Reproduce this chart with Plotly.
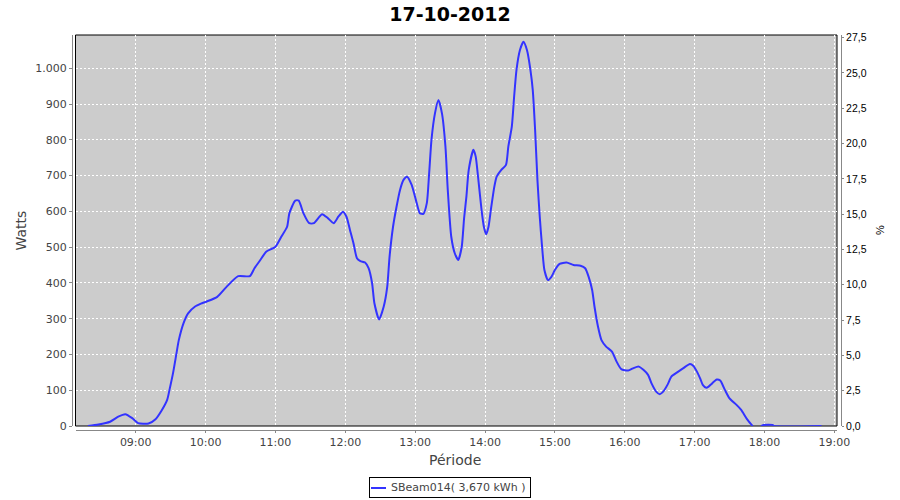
import plotly.graph_objects as go
from datetime import datetime

day = "2012-10-17"
times = ["08:19", "08:28", "08:38", "08:45", "08:51", "08:57", "09:02", "09:11", "09:17", "09:22",
         "09:27", "09:29", "09:32", "09:35", "09:37", "09:41", "09:45", "09:51", "09:56", "10:01",
         "10:10", "10:18", "10:28", "10:38", "10:42", "10:47", "10:52", "11:00", "11:05", "11:10",
         "11:12", "11:17", "11:20", "11:24", "11:29", "11:33", "11:40", "11:45", "11:50", "11:54",
         "11:58", "12:01", "12:04", "12:07", "12:10", "12:13", "12:17", "12:20", "12:23", "12:25",
         "12:29", "12:33", "12:36", "12:38", "12:41", "12:44", "12:47", "12:50", "12:53", "12:57",
         "13:01", "13:04", "13:07", "13:10", "13:12", "13:14", "13:17", "13:20", "13:23", "13:26",
         "13:28", "13:31", "13:34", "13:37", "13:40", "13:42", "13:44", "13:46", "13:50", "13:52",
         "13:54", "13:57", "13:59", "14:01", "14:03", "14:05", "14:08", "14:10", "14:14", "14:18",
         "14:20", "14:23", "14:25", "14:27", "14:30", "14:33", "14:36", "14:39", "14:41", "14:43",
         "14:45", "14:47", "14:49", "14:51", "14:54", "14:57", "15:00", "15:04", "15:10", "15:16",
         "15:22", "15:26", "15:29", "15:32", "15:34", "15:37", "15:40", "15:44", "15:49", "15:53",
         "15:57", "16:03", "16:07", "16:12", "16:16", "16:20", "16:23", "16:27", "16:30", "16:33",
         "16:37", "16:40", "16:45", "16:50", "16:56", "16:59", "17:02", "17:05", "17:07", "17:10",
         "17:12", "17:15", "17:19", "17:22", "17:26", "17:30", "17:36", "17:40", "17:45", "17:49",
         "17:50", "17:54", "17:57", "17:59", "18:07", "18:08", "18:49"]
watts = [0, 4, 12, 26, 33, 22, 8, 7, 19, 42,
         73, 101, 147, 203, 240, 287, 315, 334, 342, 348,
         361, 389, 419, 419, 441, 464, 487, 501, 529, 557,
         595, 630, 630, 595, 567, 567, 592, 581, 567, 585,
         599, 585, 548, 511, 469, 461, 457, 441, 399, 343,
         298, 334, 389, 473, 557, 613, 660, 688, 697, 674,
         627, 595, 593, 623, 706, 800, 874, 911, 874, 781,
         660, 529, 483, 464, 501, 580, 641, 716, 772, 753,
         697, 604, 557, 536, 557, 604, 669, 697, 716, 730,
         781, 837, 921, 995, 1051, 1074, 1051, 995, 939, 828,
         688, 585, 501, 436, 408, 417, 436, 453, 457, 450,
         448, 441, 417, 380, 334, 278, 240, 222, 208, 180,
         159, 155, 161, 166, 157, 143, 119, 96, 89, 96,
         117, 138, 150, 161, 173, 168, 152, 131, 115, 107,
         110, 119, 130, 127, 101, 77, 59, 45, 19, 3,
         0, None, 0, 3, 3, 0, 0]

left_ticks = list(range(0, 1001, 100))
right_ticks = [0, 2.5, 5, 7.5, 10, 12.5, 15, 17.5, 20, 22.5, 25, 27.5]
series_name = "SBeam014( 3,670 kWh )"
title_text = "17-10-2012"
line_color = "#3333FF"

x = [datetime.strptime(f"{day} {t}", "%Y-%m-%d %H:%M") for t in times]

W, H = 900, 500
ml, mr, mt, mb = 72, 59, 35, 70
pw = W - ml - mr
ph = H - mt - mb
xd0 = (75.5 - ml) / pw
xd1 = (837 - ml) / pw
yd0 = (430 - 426) / ph


def px_x(px):
    return (px - ml) / pw


def px_y(py):
    return (H - mb - py) / ph


fig = go.Figure()
fig.add_trace(go.Scatter(x=x, y=watts, mode="lines", name=series_name,
                         line=dict(color=line_color, width=2, shape="spline", smoothing=0.6),
                         connectgaps=False, showlegend=False))
fig.add_trace(go.Scatter(x=[], y=[], yaxis="y2", showlegend=False, hoverinfo="skip"))

font_main = "DejaVu Sans"
fig.update_layout(
    width=W, height=H,
    margin=dict(l=ml, r=mr, t=mt, b=mb, autoexpand=False),
    paper_bgcolor="white",
    plot_bgcolor="#CCCCCC",
    separators=",.",
    font=dict(family=font_main, size=11, color="#444"),
    title=dict(text=title_text, x=0.5, xref="container", xanchor="center",
               y=1 - 14 / H, yref="container", yanchor="middle",
               font=dict(family=font_main, size=19, color="black", weight="bold")),
    xaxis=dict(type="date", domain=[xd0, xd1], anchor="free", position=0,
               range=[datetime(2012, 10, 17, 8, 8, 17), datetime(2012, 10, 17, 19, 2, 17)],
               tickformat="%H:%M", dtick=3600000, tick0="2012-10-17 00:00",
               showgrid=True, gridcolor="white", gridwidth=1, griddash="2px,2px",
               showline=True, linecolor="#888", linewidth=1,
               ticks="outside", ticklen=2, tickcolor="#888",
               tickfont=dict(family=font_main, size=11, color="#444"),
               zeroline=False, automargin=False),
    yaxis=dict(domain=[yd0, 1], anchor="free", position=0,
               range=[0, 1093], tickvals=left_ticks, tickformat=",d",
               showgrid=True, gridcolor="white", gridwidth=1, griddash="2px,2px",
               showline=True, linecolor="#888", linewidth=1,
               ticks="outside", ticklen=3, tickcolor="#888",
               tickfont=dict(family=font_main, size=11, color="#444"),
               zeroline=False, automargin=False),
    yaxis2=dict(overlaying="y", side="right", anchor="free", position=1,
                range=[0, 27.69], tickvals=right_ticks, tickformat=".1f",
                showgrid=False, zeroline=False,
                showline=True, linecolor="#888", linewidth=1,
                ticks="outside", ticklen=2, tickcolor="#888",
                tickfont=dict(family="Liberation Sans", size=10.5, color="black"),
                automargin=False),
    showlegend=False,
)

# plot border
fig.add_shape(type="rect", xref="paper", yref="paper", x0=xd0, x1=xd1, y0=yd0, y1=1,
              line=dict(color="black", width=1), fillcolor="rgba(0,0,0,0)", layer="between")

# axis titles
fig.add_annotation(text="Watts", xref="paper", yref="paper", x=px_x(20), y=px_y(230.5),
                   showarrow=False, textangle=-90, xanchor="center", yanchor="middle",
                   font=dict(family=font_main, size=14, color="#444"))
fig.add_annotation(text="Période", xref="paper", yref="paper", x=px_x(455), y=px_y(460),
                   showarrow=False, xanchor="center", yanchor="middle",
                   font=dict(family=font_main, size=14, color="#444"))
fig.add_annotation(text="%", xref="paper", yref="paper", x=px_x(880), y=px_y(230),
                   showarrow=False, textangle=-90, xanchor="center", yanchor="middle",
                   font=dict(family="Liberation Sans", size=11, color="black"))

# legend box (JFreeChart style)
fig.add_annotation(text=series_name + " ", xref="paper", yref="paper", x=px_x(450), y=px_y(488),
                   showarrow=False, xanchor="center", yanchor="middle",
                   width=158, height=17, align="right", valign="middle",
                   bordercolor="black", borderwidth=1, borderpad=1, bgcolor="rgba(0,0,0,0)",
                   font=dict(family=font_main, size=11, color="#444"))
fig.add_shape(type="line", xref="paper", yref="paper", x0=px_x(371), x1=px_x(386),
              y0=px_y(488), y1=px_y(488), line=dict(color=line_color, width=2), layer="above")

fig.write_html("out.html", config={"displayModeBar": False},
               post_script="document.body.style.margin='0';document.body.style.overflow='hidden';")
